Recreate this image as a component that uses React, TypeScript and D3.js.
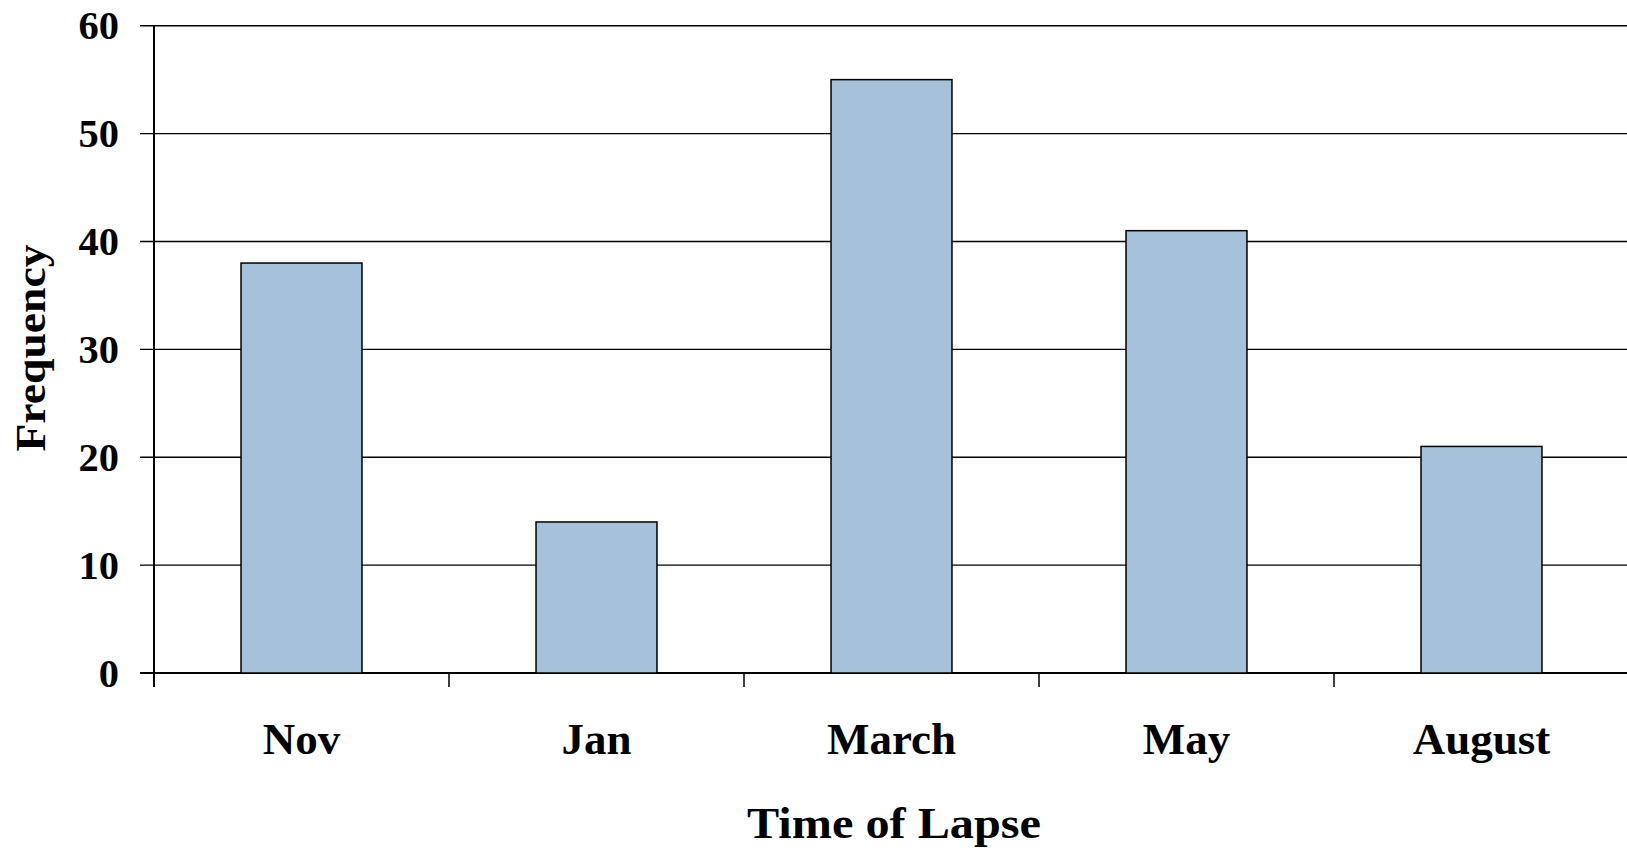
import React from "react";
import * as d3 from "d3";

const categories = ["Nov", "Jan", "March", "May", "August"];
const frequencies = [38, 14, 55, 41, 21];
const yTicks = [0, 10, 20, 30, 40, 50, 60];
const xTitle = "Time of Lapse";
const yTitle = "Frequency";

const W = 1627;
const H = 851;
const left = 154;
const top = 25.7;
const bottom = 673;
const step = 295;

export default function App() {
  const x = d3
    .scaleBand<string>()
    .domain(categories)
    .range([left, left + step * categories.length])
    .paddingInner(0.59)
    .paddingOuter(0.295);
  const y = d3.scaleLinear().domain([0, 60]).range([bottom, top]);
  const font = "'Liberation Serif', 'Times New Roman', serif";
  const boundaries = d3.range(categories.length + 1).map((i) => left + i * step);

  return (
    <svg
      width={W}
      height={H}
      style={{ position: "absolute", left: 0, top: 0, background: "#fff" }}
      fontFamily={font}
      fontWeight="bold"
    >
      {yTicks.map((t) => (
        <g key={t}>
          <line
            x1={140}
            x2={W}
            y1={y(t)}
            y2={y(t)}
            stroke="#000"
            strokeWidth={t === 0 ? 2 : 1.4}
          />
          <text x={119} y={y(t) + 13.5} textAnchor="end" fontSize={40.5} fill="#000">
            {t}
          </text>
        </g>
      ))}
      <line x1={left} x2={left} y1={top} y2={bottom + 14} stroke="#000" strokeWidth={2} />
      {boundaries.map((b, i) => (
        <line key={i} x1={b} x2={b} y1={bottom} y2={bottom + 14} stroke="#000" strokeWidth={1.5} />
      ))}
      {categories.map((c, i) => (
        <rect
          key={c}
          x={x(c)}
          y={y(frequencies[i])}
          width={x.bandwidth()}
          height={y(0) - y(frequencies[i])}
          fill="#a6c2da"
          stroke="#000"
          strokeWidth={1.5}
        />
      ))}
      {categories.map((c) => (
        <text
          key={c}
          x={(x(c) as number) + x.bandwidth() / 2}
          y={754}
          textAnchor="middle"
          fontSize={45}
          fill="#000"
        >
          {c}
        </text>
      ))}
      <text x={894} y={838} textAnchor="middle" fontSize={44} fill="#000" textLength={294} lengthAdjust="spacingAndGlyphs">
        {xTitle}
      </text>
      <text
        transform={`translate(45,348) rotate(-90)`}
        textAnchor="middle"
        fontSize={42}
        fill="#000"
        textLength={207}
        lengthAdjust="spacingAndGlyphs"
      >
        {yTitle}
      </text>
    </svg>
  );
}
